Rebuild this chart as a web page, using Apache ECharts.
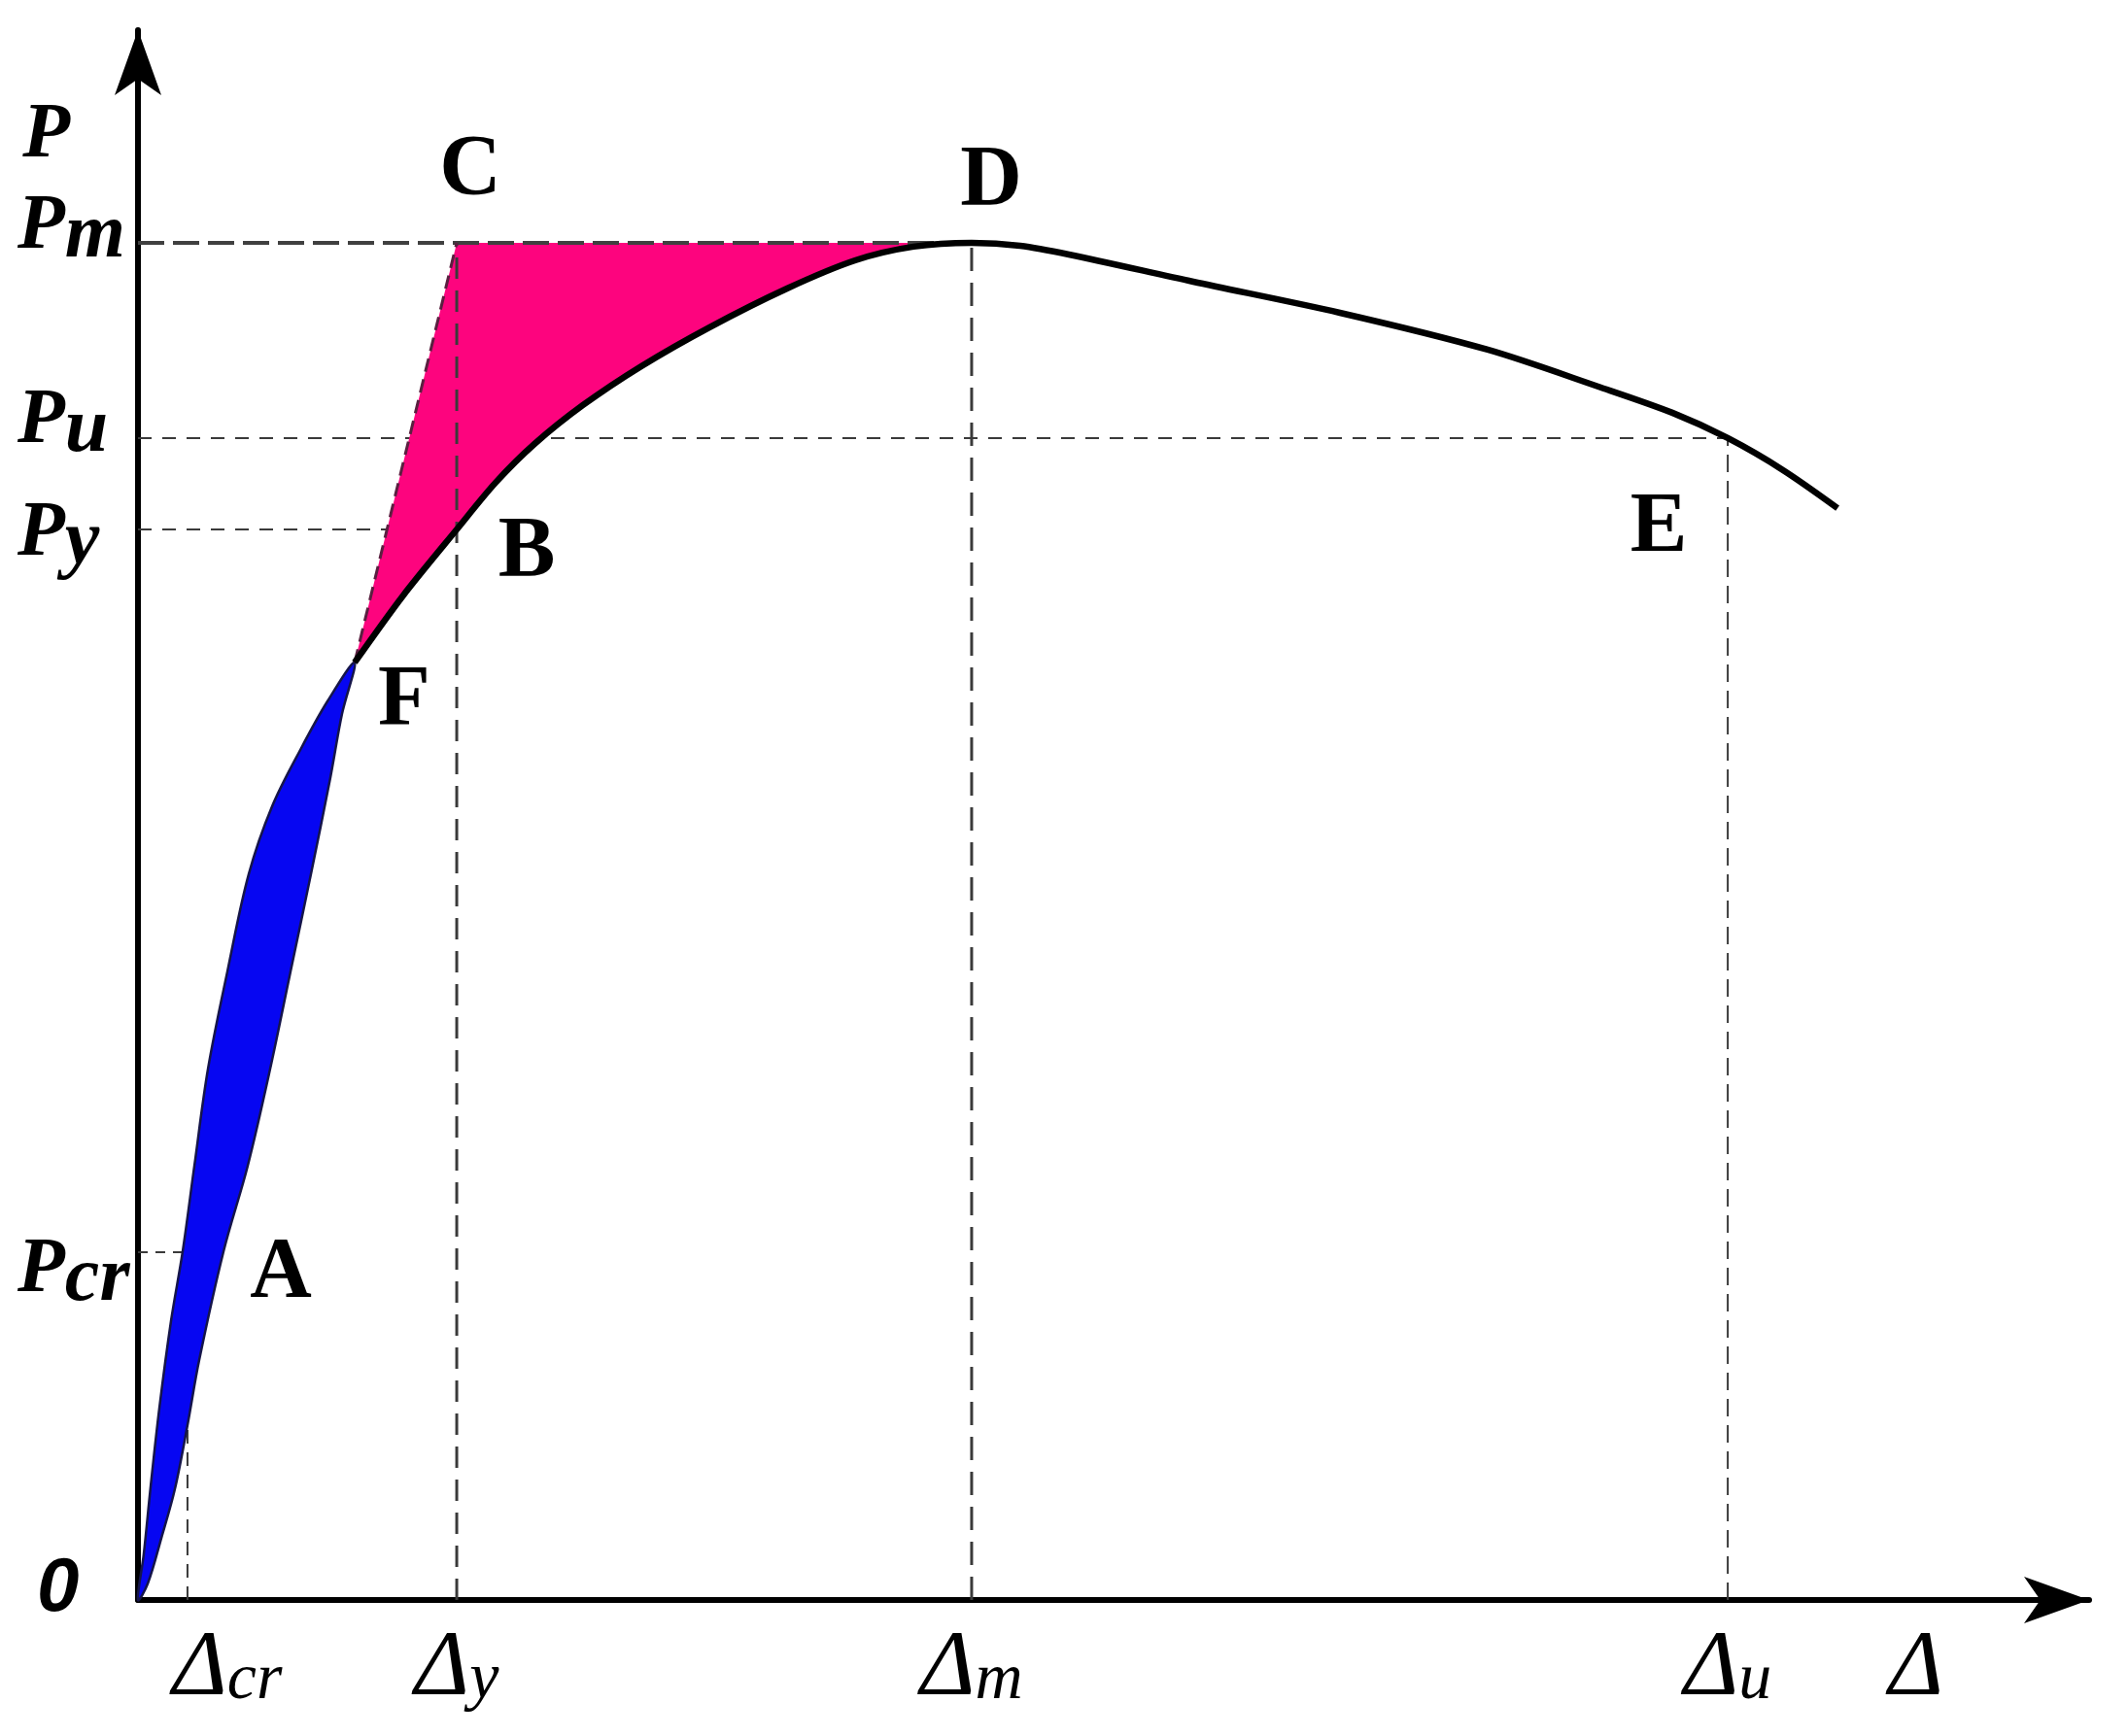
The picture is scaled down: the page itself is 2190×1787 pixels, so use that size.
<!DOCTYPE html>
<html>
<head>
<meta charset="utf-8">
<script src="https://cdn.jsdelivr.net/npm/echarts@6/dist/echarts.min.js"></script>
<style>
html,body{margin:0;padding:0;background:#ffffff;}
#chart{width:2190px;height:1787px;}
</style>
</head>
<body>
<div id="chart"></div>
<script>
// ---------------- data ----------------
// axis extents (arrow tips)
const xMax = 101.67;
const yMax = 102.08;
// characteristic displacements (x) and loads (y)
const deltaTicks = [2.58, 16.61, 43.44, 82.84];
const deltaSubs  = ['cr', 'y', 'm', 'u'];
const loadTicks  = [22.62, 69.61, 75.55, 88.25];
const loadSubs   = ['cr', 'y', 'u', 'm'];

// rising branch of the P-Δ curve, O -> F
const riseCurve = [[0,0],[0.30,2.97],[0.66,7.39],[1.11,12.44],[1.72,18.13],[2.33,22.68],[2.94,28.24],
  [3.65,34.55],[4.66,40.87],[5.77,47.19],[6.99,51.61],[8.51,55.40],[9.87,58.43],[11.29,60.96]];
// lower edge of the blue band, O -> F
const riseLowerEdge = [[0,0],[0.51,1.07],[1.22,4.04],[1.92,7.20],[2.58,11.37],[3.19,15.60],[4.46,22.68],
  [5.72,28.24],[6.89,34.55],[7.95,40.87],[9.01,47.19],[10.03,53.51],[10.63,57.61],[11.29,60.96]];
// curve F -> B -> D -> E -> end
const peakCurve = [[11.29,60.96],[13.82,65.32],[16.61,69.61],[18.63,72.65],[20.66,75.17],[23.19,77.70],
  [26.23,80.23],[29.77,82.75],[33.82,85.28],[37.37,87.11],[40.41,88.00],[43.44,88.25],[45.97,88.06],[48.51,87.49],
  [54.99,85.72],[62.63,83.70],[70.33,81.30],[76.10,78.90],[79.95,77.20],[82.84,75.55],[85.72,73.47],[88.56,71.00]];

// named points
const pointNames  = ['A', 'B', 'C', 'D', 'E', 'F'];
const pointValues = [[2.58,22.62],[16.61,69.61],[16.61,88.25],[43.44,88.25],[82.84,75.55],[11.29,60.96]];

// ---------------- build ----------------
const [dCr, dY, dM, dU] = deltaTicks;
const [pCr, pY, pU, pM] = loadTicks;
const F = pointValues[5];
const C = pointValues[2];
const dIdx = peakCurve.findIndex(p => p[0] === dM);

const bluePoly = riseCurve.concat(riseLowerEdge.slice(1, -1).reverse());
const pinkPoly = [C].concat(peakCurve.slice(0, dIdx + 1).reverse());

const serif = 'Liberation Serif';

function dashed(data, z, width, dash, color) {
  return { type: 'line', data: data, z: z, symbol: 'none', silent: true, animation: false,
    lineStyle: { color: color || '#3a3a3a', width: width, type: dash } };
}
function polygon(points, fill, stroke, lw, z, smooth) {
  return { type: 'custom', z: z, data: points, silent: true, encode: { x: 0, y: 1 },
    renderItem: function (params, api) {
      if (params.dataIndex !== 0) return null;
      return { type: 'polygon', shape: { points: points.map(p => api.coord(p)), smooth: smooth || 0 },
        style: { fill: fill, stroke: stroke, lineWidth: lw } };
    } };
}

const labelOffsets = { A: [96, 22], B: [72, 24], C: [14, -74], D: [20, -63], E: [-71, 93], F: [51, 40] };

// y-axis label rich styles (per label vertical placement)
const pFont = { fontFamily: serif, fontWeight: 'bold', fontStyle: 'italic', fontSize: 80, color: '#000' };
const yRich = {
  p0: Object.assign({}, pFont, { padding: [38, 0, 0, 0] }),
  s0: Object.assign({}, pFont, { padding: [56, 0, 0, 0] }),
  p1: Object.assign({}, pFont, { padding: [10, 0, 0, 0] }),
  s1: Object.assign({}, pFont, { padding: [28, 0, 0, 0] }),
  p2: Object.assign({}, pFont, { padding: [0, 0, 34, 0] }),
  s2: Object.assign({}, pFont, { padding: [0, 0, 16, 0] }),
  p3: Object.assign({}, pFont, { padding: [0, 0, 32, 0] }),
  s3: Object.assign({}, pFont, { padding: [0, 0, 14, 0] }),
  zero: { fontFamily: 'Liberation Sans', fontWeight: 'bold', fontStyle: 'italic', fontSize: 78, color: '#000', padding: [0, 0, 22, 20] }
};
const dFont = { fontFamily: serif, fontStyle: 'italic', fontSize: 96, color: '#000' };
const xRich = {
  d: Object.assign({}, dFont),
  dcr: Object.assign({}, dFont, { padding: [0, 0, 0, 82] }),
  sub: { fontFamily: serif, fontStyle: 'italic', fontSize: 68, color: '#000', padding: [22, 0, 0, 0] }
};

const option = {
  backgroundColor: '#ffffff',
  animation: false,
  grid: { left: 142, top: 31, right: 40, bottom: 140, containLabel: false },
  xAxis: {
    type: 'value', min: 0, max: xMax,
    splitLine: { show: false }, axisTick: { show: false },
    axisLine: { show: true, onZero: false, symbol: ['none', 'arrow'], symbolSize: [36, 67],
      lineStyle: { color: '#000', width: 6 } },
    axisLabel: {
      show: true, customValues: deltaTicks, margin: 24,
      formatter: function (v) {
        const i = deltaTicks.indexOf(v);
        return '{' + (i === 0 ? 'dcr' : 'd') + '|Δ}{sub|' + deltaSubs[i] + '}';
      },
      rich: xRich
    },
    name: 'Δ', nameLocation: 'end', nameGap: -178,
    nameTextStyle: { fontFamily: serif, fontStyle: 'italic', fontSize: 96, color: '#000',
      align: 'center', verticalAlign: 'top', padding: [24, 0, 0, 0] }
  },
  yAxis: {
    type: 'value', min: 0, max: yMax,
    splitLine: { show: false }, axisTick: { show: false },
    axisLine: { show: true, onZero: false, symbol: ['none', 'arrow'], symbolSize: [36, 67],
      lineStyle: { color: '#000', width: 6 } },
    axisLabel: {
      show: true, customValues: [0].concat(loadTicks), margin: 124, align: 'left',
      showMinLabel: true,
      formatter: function (v) {
        if (v === 0) return '{zero|0}';
        const i = loadTicks.indexOf(v);
        return '{p' + i + '|P}{s' + i + '|' + loadSubs[i] + '}';
      },
      rich: yRich
    },
    name: 'P', nameLocation: 'end', nameGap: -109,
    nameTextStyle: { fontFamily: serif, fontWeight: 'bold', fontStyle: 'italic', fontSize: 80, color: '#000',
      align: 'right', verticalAlign: 'middle', padding: [0, 70, 0, 0] }
  },
  series: [
    // guide lines drawn under the fills
    dashed([[0, pCr], [dCr, pCr]], 1, 2, [10, 8]),
    dashed([[dCr, 0], [dCr, pCr]], 1, 2, [14, 9]),
    dashed([[0, pY], [dY, pY]], 1, 2, [14, 11]),
    dashed([[0, pU], [dU, pU]], 1, 2, [14, 11]),
    // filled regions
    polygon(bluePoly, '#0606f2', '#15154a', 2.5, 2, 0.35),
    polygon(pinkPoly, '#fd047e', null, 0, 2, 0),
    // guide lines drawn over the fills
    dashed([[0, pM], [dM, pM]], 3, 4, [27, 9], '#404040'),
    dashed([[dY, 0], [dY, pM]], 3, 3, [22, 12], '#3a3a3a'),
    dashed([[dM, 0], [dM, pM]], 3, 3, [24, 12], '#3a3a3a'),
    dashed([[dU, 0], [dU, pU]], 3, 2, [18, 9], '#3a3a3a'),
    dashed([F, C], 3, 3, [14, 8], '#5a2040'),
    // main curve
    { type: 'line', data: peakCurve, z: 4, symbol: 'none', silent: true, smooth: 0.3,
      lineStyle: { color: '#000', width: 6.5 } },
    // point labels
    { type: 'scatter', z: 6, silent: true, symbolSize: 0, itemStyle: { color: '#000', opacity: 1 },
      data: pointNames.map((n, i) => ({ name: n, value: pointValues[i], label: { offset: labelOffsets[n] } })),
      label: { show: true, position: 'inside', formatter: '{b}', align: 'center', verticalAlign: 'middle',
        fontFamily: serif, fontWeight: 'bold', fontSize: 88, color: '#000', opacity: 1, textBorderWidth: 0 } }
  ]
};

const chart = echarts.init(document.getElementById('chart'), null, { renderer: 'canvas' });
chart.setOption(option);
</script>
</body>
</html>
